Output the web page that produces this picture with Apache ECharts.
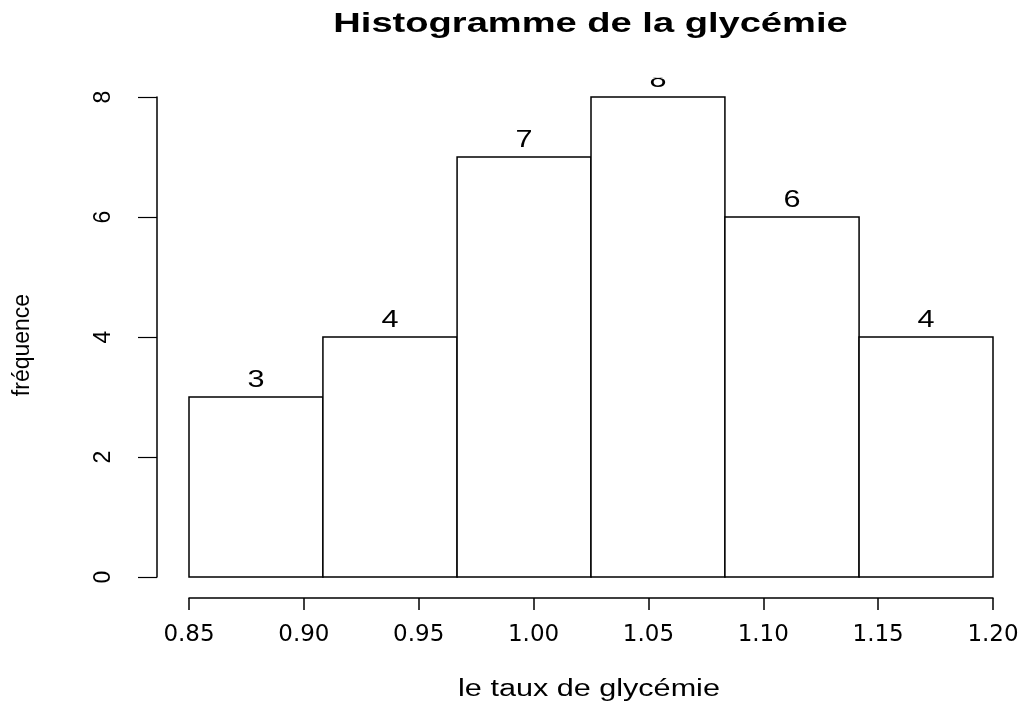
<!DOCTYPE html>
<html>
<head>
<meta charset="utf-8">
<title>Histogramme de la glycémie</title>
<script src="https://cdn.jsdelivr.net/npm/echarts@6/dist/echarts.min.js"></script>
<style>
  html, body { margin: 0; padding: 0; background: #fff; }
  #chart { width: 1025px; height: 702px; }
</style>
</head>
<body>
<div id="chart"></div>
<script>
// classes de l'histogramme (bornes) et effectifs
var breaks = [0.85, 0.9083, 0.9667, 1.025, 1.0833, 1.1417, 1.20];
var counts = [3, 4, 7, 8, 6, 4];
// graduations
var xTicks = ['0.85', '0.90', '0.95', '1.00', '1.05', '1.10', '1.15', '1.20'];
var yTicks = [0, 2, 4, 6, 8];

var rows = counts.map(function (c, i) { return [breaks[i], breaks[i + 1], c]; });

var yMax = yTicks[yTicks.length - 1];
var stretch = 1.33; // le texte horizontal de l'original est étiré

var chart = echarts.init(document.getElementById('chart'));

function renderItem(params, api) {
  var p0 = api.coord([api.value(0), api.value(2)]);
  var p1 = api.coord([api.value(1), 0]);
  var clipTop = api.coord([api.value(0), yMax * 1.04])[1];
  return {
    type: 'group',
    children: [
      {
        type: 'rect',
        shape: { x: p0[0], y: p0[1], width: p1[0] - p0[0], height: p1[1] - p0[1] },
        style: { fill: '#fff', stroke: '#000', lineWidth: 1.5 }
      },
      {
        type: 'group',
        clipPath: { type: 'rect', shape: { x: 0, y: clipTop, width: 2000, height: 2000 } },
        children: [{
          type: 'text',
          x: (p0[0] + p1[0]) / 2,
          y: p0[1] - 16.5,
          scaleX: stretch,
          style: {
            text: String(api.value(2)),
            textAlign: 'center',
            textVerticalAlign: 'middle',
            font: '23px "Liberation Sans"',
            fill: '#000'
          }
        }]
      }
    ]
  };
}

chart.setOption({
  animation: false,
  backgroundColor: '#fff',
  grid: { left: 189, right: 32, top: 97, bottom: 125, outerBoundsMode: 'none' },
  xAxis: {
    type: 'value',
    min: parseFloat(xTicks[0]),
    max: parseFloat(xTicks[xTicks.length - 1]),
    interval: 0.05,
    offset: 21,
    splitLine: { show: false },
    axisLine: { show: true, onZero: false, lineStyle: { color: '#000', width: 1.5 } },
    axisTick: { show: true, length: 12, lineStyle: { color: '#000', width: 1.5 } },
    axisLabel: {
      margin: 26,
      fontFamily: 'DejaVu Sans',
      fontSize: 23,
      color: '#000',
      formatter: function (v) { return v.toFixed(2); }
    }
  },
  yAxis: {
    type: 'value',
    min: yTicks[0],
    max: yMax,
    interval: 2,
    offset: 32,
    splitLine: { show: false },
    axisLine: { show: true, onZero: false, lineStyle: { color: '#000', width: 1.5 } },
    axisTick: { show: true, length: 19, lineStyle: { color: '#000', width: 1.2 } },
    axisLabel: { rotate: 90, margin: 42, fontFamily: 'Liberation Sans', fontSize: 23, color: '#000' },
    name: 'fréquence',
    nameLocation: 'middle',
    nameRotate: 90,
    nameGap: 123,
    nameTextStyle: { fontFamily: 'Liberation Sans', fontSize: 23, color: '#000', padding: [0, 16, 0, 0] }
  },
  graphic: [
    {
      type: 'text',
      x: 590.5, y: 24.5,
      scaleX: 1.36,
      style: {
        text: 'Histogramme de la glycémie',
        font: 'bold 28px "Liberation Sans"',
        textAlign: 'center',
        textVerticalAlign: 'middle',
        fill: '#000'
      }
    },
    {
      type: 'text',
      x: 589, y: 690,
      scaleX: stretch,
      style: {
        text: 'le taux de glycémie',
        font: '23px "Liberation Sans"',
        textAlign: 'center',
        textVerticalAlign: 'middle',
        fill: '#000'
      }
    }
  ],
  series: [{
    type: 'custom',
    renderItem: renderItem,
    encode: { x: [0, 1], y: 2 },
    data: rows
  }]
});
</script>
</body>
</html>
